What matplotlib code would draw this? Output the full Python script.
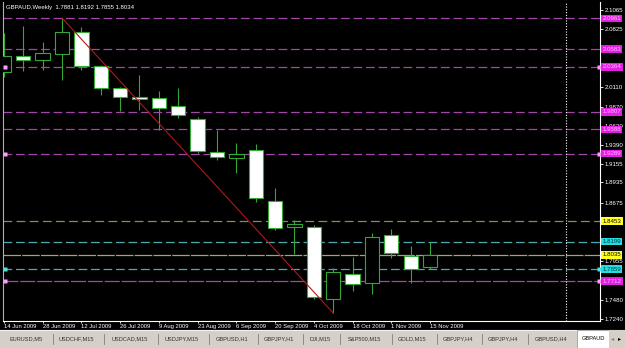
import matplotlib
matplotlib.use('Agg')
import matplotlib.pyplot as plt
from matplotlib.patches import Rectangle
from matplotlib.transforms import blended_transform_factory

plt.rcParams['font.family'] = ['Liberation Sans', 'DejaVu Sans']

# weekly GBPAUD candles, week of 14 Jun 2009 .. 15 Nov 2009
opens = [2.0298, 2.0496, 2.0447, 2.0521, 2.0793, 2.0373, 2.0100, 1.9989, 1.9977, 1.9878,
         1.9717, 1.9308, 1.9234, 1.9333, 1.8702, 1.8380, 1.8380, 1.7489, 1.7799, 1.7687,
         1.8281, 1.8021, 1.7881]
highs = [2.0781, 2.0868, 2.0670, 2.0967, 2.0855, 2.0380, 2.0110, 2.0261, 2.0063, 2.0100,
         1.9742, 1.9581, 1.9420, 1.9407, 1.8863, 1.8467, 1.8405, 1.7873, 1.8009, 1.8305,
         1.8355, 1.8145, 1.8192]
lows = [2.0237, 2.0311, 2.0323, 2.0199, 2.0323, 2.0014, 1.9816, 1.9828, 1.9581, 1.9729,
        1.9296, 1.9209, 1.9049, 1.8690, 1.8343, 1.8046, 1.7489, 1.7316, 1.7588, 1.7551,
        1.7996, 1.7687, 1.7855]
closes = [2.0496, 2.0447, 2.0534, 2.0793, 2.0373, 2.0100, 1.9989, 1.9964, 1.9853, 1.9766,
          1.9321, 1.9247, 1.9284, 1.8739, 1.8368, 1.8417, 1.7514, 1.7823, 1.7675, 1.8256,
          1.8058, 1.7860, 1.8034]

date_labels = ['14 Jun 2009', '28 Jun 2009', '12 Jul 2009', '26 Jul 2009', '9 Aug 2009',
               '23 Aug 2009', '6 Sep 2009', '20 Sep 2009', '4 Oct 2009', '18 Oct 2009',
               '1 Nov 2009', '15 Nov 2009']

price_ticks = [2.1065, 2.0825, 2.0110, 1.9870, 1.9630, 1.9390, 1.9155, 1.8935, 1.8675,
               1.7955, 1.7480, 1.7240]

magenta_levels = [2.0961, 2.0583, 2.0364, 1.9807, 1.9588, 1.9289, 1.7712]
cyan_levels = [1.8199, 1.7859]
yellow_levels = [1.8453, 1.8035]
marked_levels = [2.0364, 1.9289, 1.7859, 1.7712]

trend_from = (3, highs[3])
trend_to = (17, lows[17])

header = 'GBPAUD,Weekly  1.7881 1.8192 1.7855 1.8034'
tabs = ['EURUSD,M5', 'USDCHF,M15', 'USDCAD,M15', 'USDJPY,M15', 'GBPUSD,H1', 'GBPJPY,H1',
        'DJI,M15', 'S&P500,M15', 'GOLD,M15', 'GBPJPY,H4', 'GBPJPY,H4', 'GBPUSD,H4']
active_tab = 'GBPAUD'

# ---- layout (pixels of a 625x348 image)
W, H = 625, 348
fig = plt.figure(figsize=(W / 100, H / 100), dpi=100, facecolor='black')


def rect(x0, y0, x1, y1):
    return [x0 / W, 1 - y1 / H, (x1 - x0) / W, (y1 - y0) / H]


ax = fig.add_axes(rect(3, 2, 600, 321))
ax.set_facecolor('black')
x0_px, step_px = 3.9, 19.37
ax.set_xlim((3 - x0_px) / step_px, (600 - x0_px) / step_px)
ax.set_ylim(1.7217, 2.1165)

green = '#34a834'
idx = list(range(len(opens)))
ax.vlines(idx, lows, highs, color=green, lw=0.8, zorder=3)
for i in idx:
    o, c = opens[i], closes[i]
    ax.bar(i, abs(c - o), bottom=min(o, c), width=0.74,
           color='black' if c > o else 'white', edgecolor=green, lw=0.8, zorder=4)

# trend line
ax.plot([trend_from[0], trend_to[0]], [trend_from[1], trend_to[1]], color='#b01818', lw=0.8, zorder=5)

# horizontal levels
for p in magenta_levels:
    ds = (12, 1.5) if p < 1.8 else (7, 3)
    ax.axhline(p, color='#a445ac', lw=0.9, dashes=ds, zorder=2)
for p in cyan_levels:
    ax.axhline(p, color='#4fa9b3', lw=0.9, dashes=(7, 3), zorder=2)
ax.axhline(yellow_levels[0], color='#8a8a62', lw=0.9, dashes=(7, 3.5), zorder=2)
ax.axhline(yellow_levels[1], color='#a4a474', lw=0.9, dashes=(14, 1), zorder=2)

# chart shift marker
ax.plot([0.9431, 0.9431], [0, 1], transform=ax.transAxes, color='white', lw=0.8,
        dashes=(1, 1.5), zorder=2)

# axes styling
for s in ['top']:
    ax.spines[s].set_visible(False)
ax.spines['left'].set_color('#b0b0b0')
ax.spines['right'].set_color('white')
ax.spines['bottom'].set_color('white')
for s in ['left', 'right', 'bottom']:
    ax.spines[s].set_linewidth(0.8)

ax.yaxis.tick_right()
ax.set_yticks(price_ticks)
ax.set_yticklabels([f'{p:.4f}' for p in price_ticks])
ax.tick_params(axis='y', length=2, width=0.6, colors='white', labelsize=4.4, pad=1.2)

ax.set_xticks(idx[::2])
ax.set_xticklabels(date_labels, ha='left')
ax.tick_params(axis='x', length=1.6, width=0.6, colors='white', labelsize=4.2, pad=0.8)

# price level labels on the right scale
tr = blended_transform_factory(ax.transAxes, ax.transData)
styles = [(magenta_levels, '#e41ee4', '#ffc0ff'), (cyan_levels, '#22dede', '#003848'),
          (yellow_levels, '#ffff22', 'black')]
for levels, bg, fg in styles:
    for p in levels:
        ax.text(1.0040, p, f'{p:.4f}', transform=tr, ha='left', va='center', fontsize=4.4,
                color=fg, clip_on=False, zorder=10,
                bbox=dict(boxstyle='square,pad=0.22', fc=bg, ec='none'))

# small anchor squares for selected lines
for p in marked_levels:
    col = '#50e0e0' if p in cyan_levels else '#ff9cff'
    ax.plot([2 / 597, 596 / 597], [p, p], transform=tr, ls='none', marker='s', ms=2.2,
            mfc=col, mec='none', clip_on=False, zorder=9)

fig.text(6 / W, 1 - 7 / H, header, color='white', fontsize=4.3, ha='left', va='center')

# ---- tab bar
fig.patches.append(Rectangle((0, 0), 1, 18 / H, transform=fig.transFigure,
                             fc='#d4d0c8', ec='none', zorder=1))
fig.add_artist(plt.Line2D([0, 1], [18 / H, 18 / H], color='#f0f0f0', lw=0.8, zorder=2))
tab_x = [10, 59, 112, 165, 216, 264, 310, 348, 398, 443, 488, 535]
sep_x = [53, 104, 158, 209, 258, 303, 340, 392, 437, 482, 528]
for t, x in zip(tabs, tab_x):
    fig.text(x / W, 9 / H, t, color='#303030', fontsize=4.1, ha='left', va='center', zorder=3)
for x in sep_x:
    fig.add_artist(plt.Line2D([x / W, x / W], [4 / H, 14 / H], color='#808080', lw=0.6, zorder=3))
fig.patches.append(Rectangle((577 / W, 0), 32 / W, 18 / H, transform=fig.transFigure,
                             fc='white', ec='#909090', lw=0.5, zorder=3))
fig.text(582 / W, 9 / H, active_tab, color='black', fontsize=4.1, ha='left', va='center', zorder=4)
fig.patches.append(Rectangle((609 / W, 0), 16 / W, 18 / H, transform=fig.transFigure,
                             fc='#d4d0c8', ec='none', zorder=5))
fig.text(613 / W, 9 / H, '\u25c2', color='#808080', fontsize=4.5, ha='center', va='center', zorder=6)
fig.text(620 / W, 9 / H, '\u25b8', color='black', fontsize=4.5, ha='center', va='center', zorder=6)

fig.savefig('out.png', dpi=100, facecolor='black')
